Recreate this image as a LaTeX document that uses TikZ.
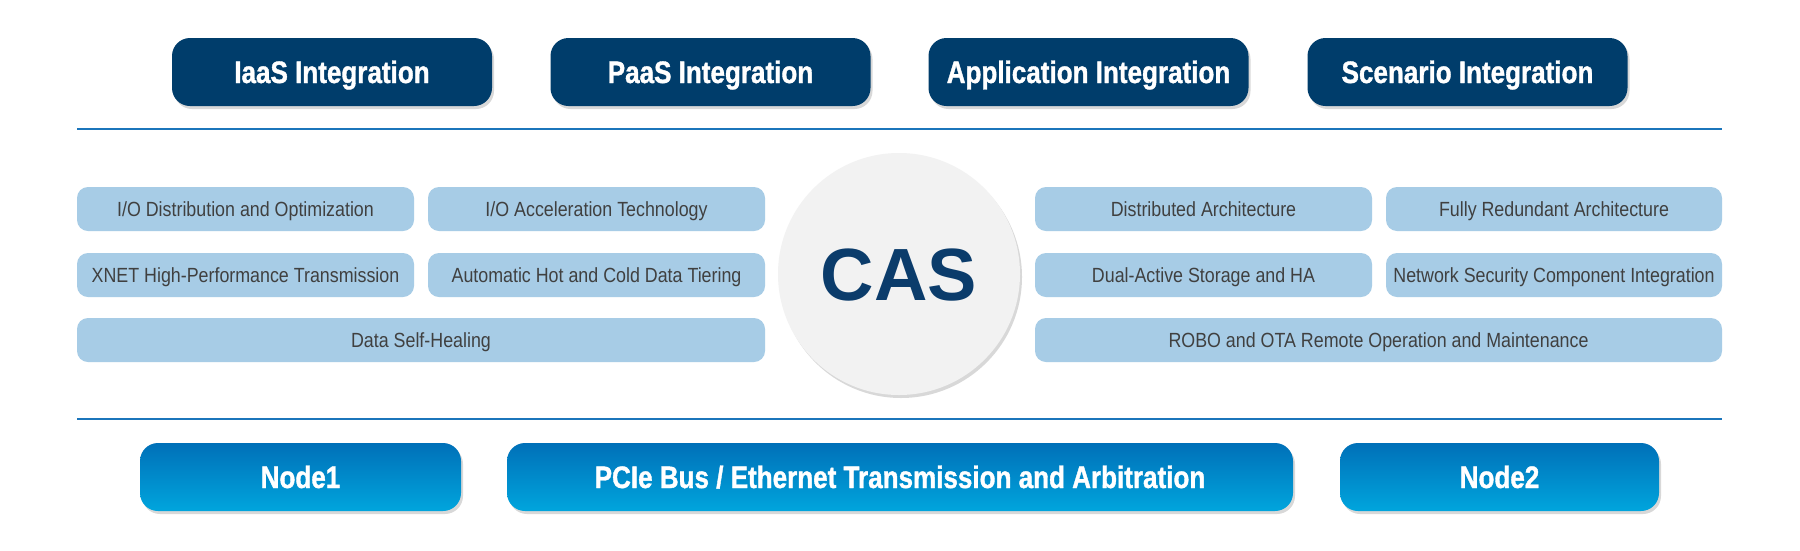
\documentclass[tikz,border=0pt]{standalone}
\usepackage{fontspec}
\setmainfont{Liberation Sans}
\newfontfamily\condfont[FakeStretch=0.84, FakeBold=1.2]{Liberation Sans}
\newfontfamily\lightcond[FakeStretch=0.87]{Liberation Sans}
\usetikzlibrary{shadows}
\definecolor{navy}{HTML}{003D6B}
\definecolor{lightbox}{HTML}{A7CCE6}
\definecolor{graytext}{HTML}{404040}
\definecolor{rule}{HTML}{1B75BB}
\definecolor{gradtop}{HTML}{0070B8}
\definecolor{gradbot}{HTML}{00A5DD}
\definecolor{casblue}{HTML}{0B3C6B}
\definecolor{circfill}{HTML}{F2F2F2}
\tikzset{
  shadowed/.style={drop shadow={opacity=0.3, shadow xshift=2pt, shadow yshift=-3pt}},
  topbox/.style={rectangle, rounded corners=18pt, fill=navy, shadowed, text=white,
    minimum height=68pt, inner sep=0pt, text height=22pt, text depth=0pt,
    font=\condfont\bfseries\fontsize{31}{31}\selectfont},
  featbox/.style={rectangle, rounded corners=11pt, fill=lightbox, text=graytext,
    minimum height=44pt, inner sep=0pt, text height=15pt, text depth=0pt,
    font=\lightcond\fontsize{20.5}{20.5}\selectfont},
  botbox/.style={rectangle, rounded corners=18pt, top color=gradtop, bottom color=gradbot,
    shadowed, text=white,
    minimum height=68pt, inner sep=0pt, text height=22pt, text depth=0pt,
    font=\condfont\bfseries\fontsize{31}{31}\selectfont},
  rulestyle/.style={draw=rule, line width=2pt},
  casnode/.style={circle, fill=circfill, shadowed, minimum size=242pt, inner sep=0pt,
    text=casblue, text height=53pt, text depth=0pt,
    font=\bfseries\fontsize{74}{74}\selectfont}
}
\begin{document}
\begin{tikzpicture}[x=1pt, y=-1pt]
\useasboundingbox (0,0) rectangle (1800,550);
\fill[white] (0,0) rectangle (1800,550);

% top row
\node[topbox, minimum width=320pt] (iaas) at (332,72) {IaaS Integration};
\node[topbox, minimum width=320pt] (paas) at (710.5,72) {PaaS Integration};
\node[topbox, minimum width=320pt] (app) at (1088.5,72) {Application Integration};
\node[topbox, minimum width=320pt] (scen) at (1467.5,72) {Scenario Integration};

% rules
\coordinate (r1a) at (77,129);
\coordinate (r1b) at (1722,129);
\coordinate (r2a) at (77,419);
\coordinate (r2b) at (1722,419);
\draw[rulestyle] (r1a) -- (r1b);
\draw[rulestyle] (r2a) -- (r2b);

% left features
\node[featbox, minimum width=337pt] (io1) at (245.5,209) {I/O Distribution and Optimization};
\node[featbox, minimum width=337pt] (io2) at (596.5,209) {I/O Acceleration Technology};
\node[featbox, minimum width=337pt] (xnet) at (245.5,275) {XNET High-Performance Transmission};
\node[featbox, minimum width=337pt] (tier) at (596.5,275) {Automatic Hot and Cold Data Tiering};
\node[featbox, minimum width=688pt] (heal) at (421,340) {Data Self-Healing};

% right features
\node[featbox, minimum width=337pt] (dist) at (1203.5,209) {Distributed Architecture};
\node[featbox, minimum width=336pt] (red) at (1554,209) {Fully Redundant Architecture};
\node[featbox, minimum width=337pt] (dual) at (1203.5,275) {Dual-Active Storage and HA};
\node[featbox, minimum width=336pt] (sec) at (1554,275) {Network Security Component Integration};
\node[featbox, minimum width=687pt] (robo) at (1378.5,340) {ROBO and OTA Remote Operation and Maintenance};

% center circle
\node[casnode] (cas) at (899,274) {CAS};

% bottom row
\node[botbox, minimum width=321pt] (n1) at (300.5,477) {Node1};
\node[botbox, minimum width=786pt] (bus) at (900,477) {PCIe Bus / Ethernet Transmission and Arbitration};
\node[botbox, minimum width=319pt] (n2) at (1499.5,477) {Node2};
\end{tikzpicture}
\end{document}
